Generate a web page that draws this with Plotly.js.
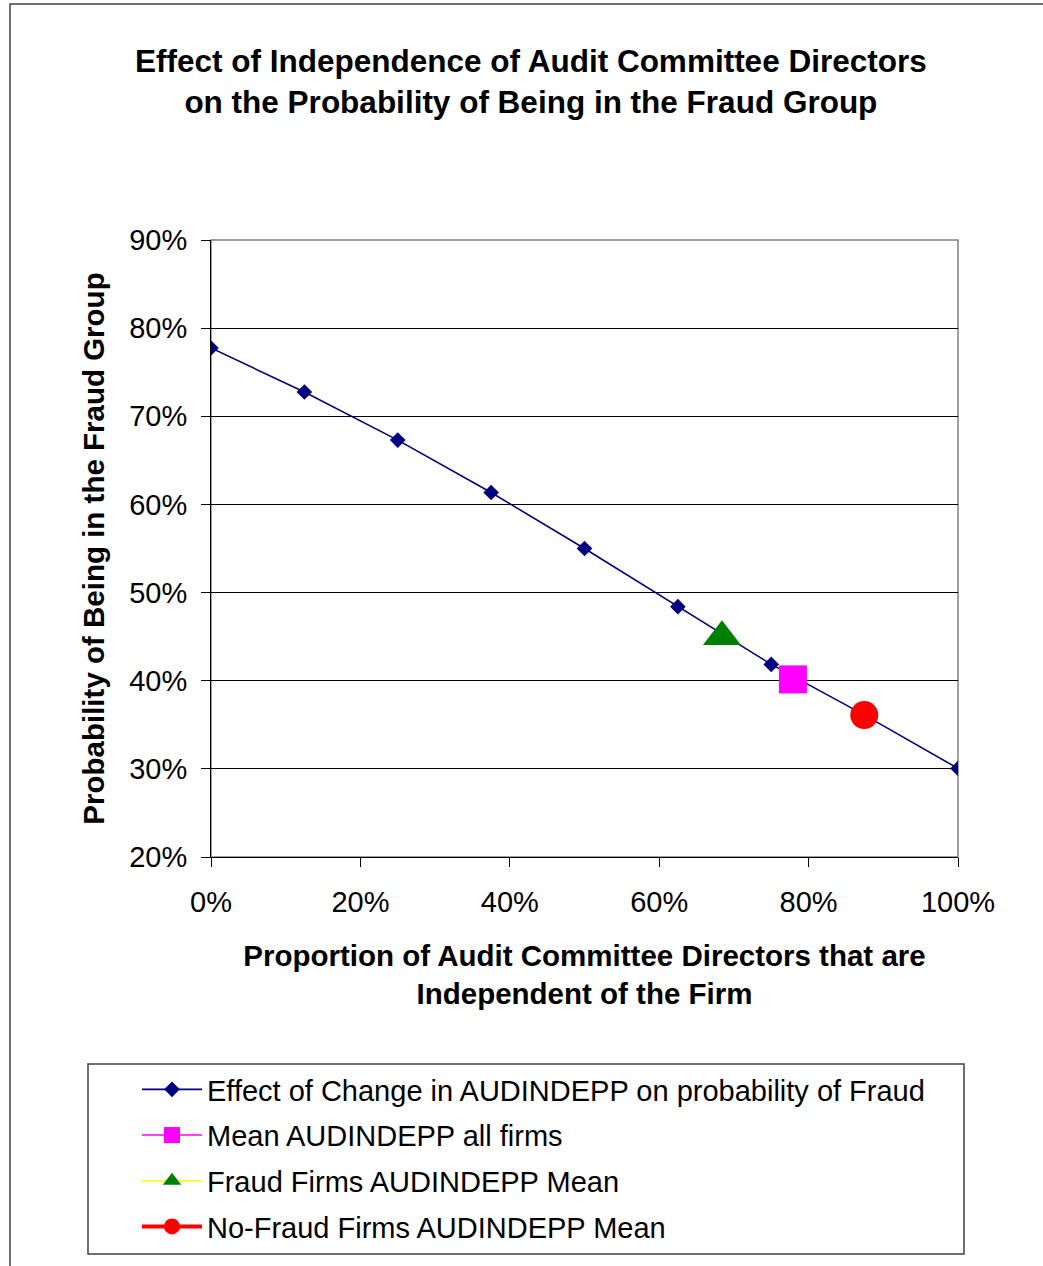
<!DOCTYPE html>
<html>
<head>
<meta charset="utf-8">
<script src="https://cdn.plot.ly/plotly-3.0.1.min.js"></script>
<style>html,body{margin:0;padding:0;background:#fff;}#chart{width:1043px;height:1266px;}</style>
</head>
<body>
<div id="chart"></div>
<script>
// Data
const independence = [0, 12.5, 25, 37.5, 50, 62.5, 75, 87.5, 100];
const fraudProb = [77.75, 72.75, 67.3, 61.35, 55.0, 48.4, 41.85, 36.1, 30.05];
const meanAllX = [77.9], meanAllY = [40.15];
const fraudMeanX = [68.4], fraudMeanY = [45.0];
const noFraudMeanX = [87.45], noFraudMeanY = [36.1];
const xTicks = [0, 20, 40, 60, 80, 100];
const yTicks = [20, 30, 40, 50, 60, 70, 80, 90];
const seriesNames = [
  "Effect of Change in AUDINDEPP on probability of Fraud",
  "Mean AUDINDEPP all firms",
  "Fraud Firms AUDINDEPP Mean",
  "No-Fraud Firms AUDINDEPP Mean"
];

const W = 1043, H = 1266;
const L = 211, R = 958, T = 240, B = 857;
const px = v => (v - L) / (R - L);
const py = v => (B - v) / (B - T);
const FONT = "Liberation Sans, Arial, sans-serif";

const traces = [
  {x: independence, y: fraudProb, name: seriesNames[0], mode: "lines+markers",
   line: {color: "#000080", width: 1.6}, marker: {symbol: "diamond", size: 12, color: "#000080"},
   legendgroup: "a"},
  {x: meanAllX, y: meanAllY, name: seriesNames[1], mode: "lines+markers",
   line: {color: "#FF00FF", width: 1.5}, marker: {symbol: "square", size: 28, color: "#FF00FF"},
   legendgroup: "b"},
  {x: fraudMeanX, y: fraudMeanY, name: seriesNames[2], mode: "lines+markers",
   line: {color: "#FFFF00", width: 1.5}, marker: {symbol: "triangle-up", size: 33, color: "#008000"},
   legendgroup: "c"},
  {x: noFraudMeanX, y: noFraudMeanY, name: seriesNames[3], mode: "lines+markers",
   line: {color: "#FF0000", width: 4}, marker: {symbol: "circle", size: 28, color: "#FF0000"},
   legendgroup: "d"}
];

const layout = {
  width: W, height: H,
  margin: {l: L, r: W - R, t: T, b: H - B, pad: 0},
  paper_bgcolor: "#fff", plot_bgcolor: "#fff",
  font: {family: FONT, color: "#000", size: 29},
  title: {text: "<b>Effect of Independence of Audit Committee Directors<br>on the Probability of Being in the Fraud Group</b>",
    font: {family: FONT, size: 31.5, color: "#000"}, x: 0.509, xanchor: "center", y: 1 - 72/H, yanchor: "top"},
  xaxis: {range: [0, 100], tickvals: xTicks, ticktext: xTicks.map(v => v + "%"),
    showgrid: false, zeroline: false, showline: true, linecolor: "#000", linewidth: 1,
    ticks: "outside", ticklen: 9, tickcolor: "#000", tickfont: {size: 29}, ticklabelstandoff: 10,
    title: {text: "<b>Proportion of Audit Committee Directors that are<br>Independent of the Firm</b>", font: {size: 29.5}, standoff: 28},
    fixedrange: true},
  yaxis: {range: [20, 90], tickvals: yTicks, ticktext: yTicks.map(v => v + "%"),
    showgrid: true, gridcolor: "#000", gridwidth: 1, zeroline: false,
    showline: true, linecolor: "#000", linewidth: 1,
    ticks: "outside", ticklen: 9, tickcolor: "#000", tickfont: {size: 29}, ticklabelstandoff: 8,
    title: {text: "<b>Probability of Being in the Fraud Group</b>", font: {size: 29.5}, standoff: 15},
    fixedrange: true},
  showlegend: true,
  legend: {x: px(137), xanchor: "left", y: py(1064), yanchor: "top",
    bgcolor: "rgba(0,0,0,0)", borderwidth: 0, font: {size: 29}, itemwidth: 60,
    tracegroupgap: 5, traceorder: "grouped", itemclick: false},
  shapes: [
    {type: "rect", xref: "paper", yref: "paper", x0: px(10), x1: px(1060), y0: py(1290), y1: py(4),
     line: {color: "#404040", width: 1.5}, layer: "below"},
    {type: "rect", xref: "paper", yref: "paper", x0: 0, x1: 1, y0: 0, y1: 1,
     line: {color: "#808080", width: 1.5}, layer: "below"},
    {type: "rect", xref: "paper", yref: "paper", x0: px(88), x1: px(964), y0: py(1254), y1: py(1064),
     line: {color: "#404040", width: 1.5}, layer: "below"}
  ]
};

Plotly.newPlot("chart", traces, layout, {staticPlot: true, displayModeBar: false});
</script>
</body>
</html>
